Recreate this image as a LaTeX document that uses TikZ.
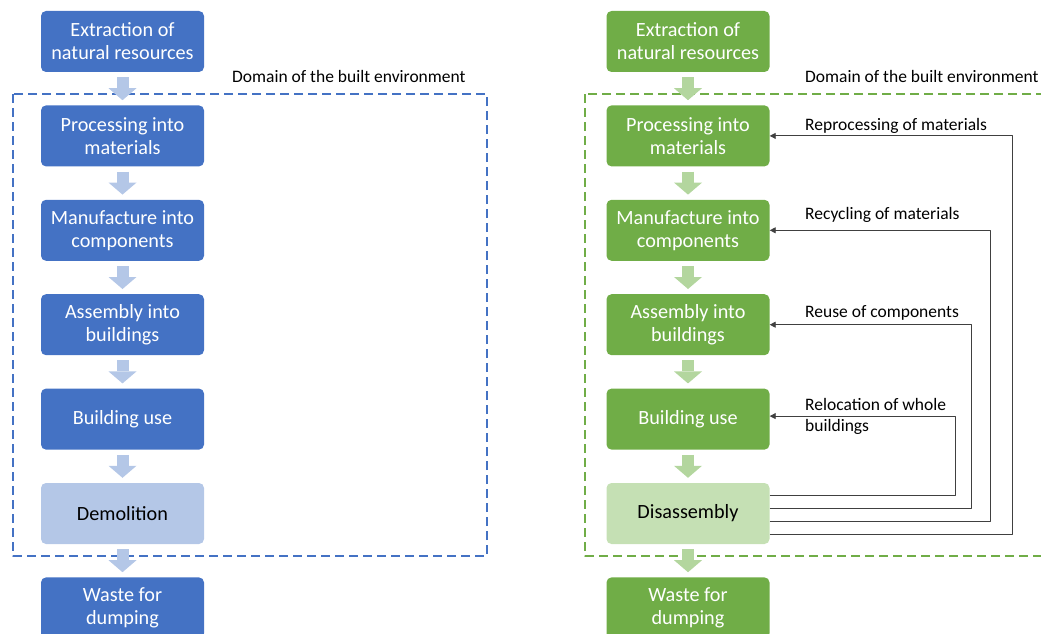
\documentclass[tikz,border=0pt]{standalone}
\usepackage{fontspec}
\setmainfont{Carlito}
\usetikzlibrary{positioning,arrows.meta}
\definecolor{bluebox}{HTML}{4472C4}
\definecolor{bluelight}{HTML}{B4C7E7}
\definecolor{greenbox}{HTML}{70AD47}
\definecolor{greenlight}{HTML}{C5E0B4}
\definecolor{greenarr}{HTML}{B3D69E}
\begin{document}
\begin{tikzpicture}[x=1pt,y=-1pt,line join=round,
	box/.style={rounded corners=5pt,minimum width=163pt,minimum height=61pt,inner sep=0pt,align=center,font=\fontsize{20.2}{23}\selectfont,text=white},
	bbox/.style={box,fill=bluebox},
	gbox/.style={box,fill=greenbox},
	blk/.style={line width=12pt,-{Triangle[width=28pt,length=12pt,line width=0pt]}},
	domframe/.style={dashed,dash pattern=on 9pt off 5pt,line width=1.3pt},
	lbl/.style={anchor=west,align=left,font=\fontsize{17.5}{21}\selectfont,inner sep=0pt},
	fb/.style={draw=black!75,line width=0.9pt,-{Triangle[length=6pt,width=6pt]}},
	node distance=33pt]
	\useasboundingbox (0,0) rectangle (1041,634);
	% domain frames
	\draw[domframe,bluebox] (13,94) rectangle (487,556);
	\draw[domframe,greenbox] (585,94) rectangle (1060,556);
	\node[lbl] (ldom) at (232,76) {Domain of the built environment};
	\node[lbl] (rdom) at (805,76) {Domain of the built environment};
	% left chain
	\node[bbox] (l-ext) at (122.5,41.5) {Extraction of\\natural resources};
	\node[bbox,below=of l-ext] (l-proc) {Processing into\\materials};
	\node[bbox,below=of l-proc] (l-manu) {Manufacture into\\components};
	\node[bbox,below=of l-manu] (l-ass) {Assembly into\\buildings};
	\node[bbox,below=of l-ass] (l-use) {Building use};
	\node[box,fill=bluelight,text=black,below=of l-use] (l-end) {Demolition};
	\node[bbox,below=of l-end] (l-waste) {Waste for\\dumping};
	% right chain
	\node[gbox] (r-ext) at (688,41.5) {Extraction of\\natural resources};
	\node[gbox,below=of r-ext] (r-proc) {Processing into\\materials};
	\node[gbox,below=of r-proc] (r-manu) {Manufacture into\\components};
	\node[gbox,below=of r-manu] (r-ass) {Assembly into\\buildings};
	\node[gbox,below=of r-ass] (r-use) {Building use};
	\node[box,fill=greenlight,text=black,below=of r-use] (r-end) {Disassembly};
	\node[gbox,below=of r-end] (r-waste) {Waste for\\dumping};
	% block arrows
	\foreach \s/\c in {l/bluelight,r/greenarr}
	\foreach \a/\b in {ext/proc,proc/manu,manu/ass,ass/use,use/end,end/waste}
	\draw[blk,\c] ([yshift=-5pt]\s-\a.south) -- ([yshift=5pt]\s-\b.north);
	% loops back from disassembly
	\draw[fb] ([yshift=18pt]r-end.east) -| ([xshift=186pt,yshift=3pt]r-use.east) -- ([yshift=3pt]r-use.east);
	\draw[fb] ([yshift=5pt]r-end.east) -| ([xshift=202pt]r-ass.east) -- (r-ass.east);
	\draw[fb] ([yshift=-8pt]r-end.east) -| ([xshift=221pt]r-manu.east) -- (r-manu.east);
	\draw[fb] ([yshift=-21pt]r-end.east) -| ([xshift=243pt]r-proc.east) -- (r-proc.east);
	\node[lbl] (reloc) at (805,416) {Relocation of whole\\buildings};
	\node[lbl] (reuse) at (805,312.5) {Reuse of components};
	\node[lbl] (recyc) at (805,214.5) {Recycling of materials};
	\node[lbl] (repro) at (805,125.5) {Reprocessing of materials};
\end{tikzpicture}
\end{document}
